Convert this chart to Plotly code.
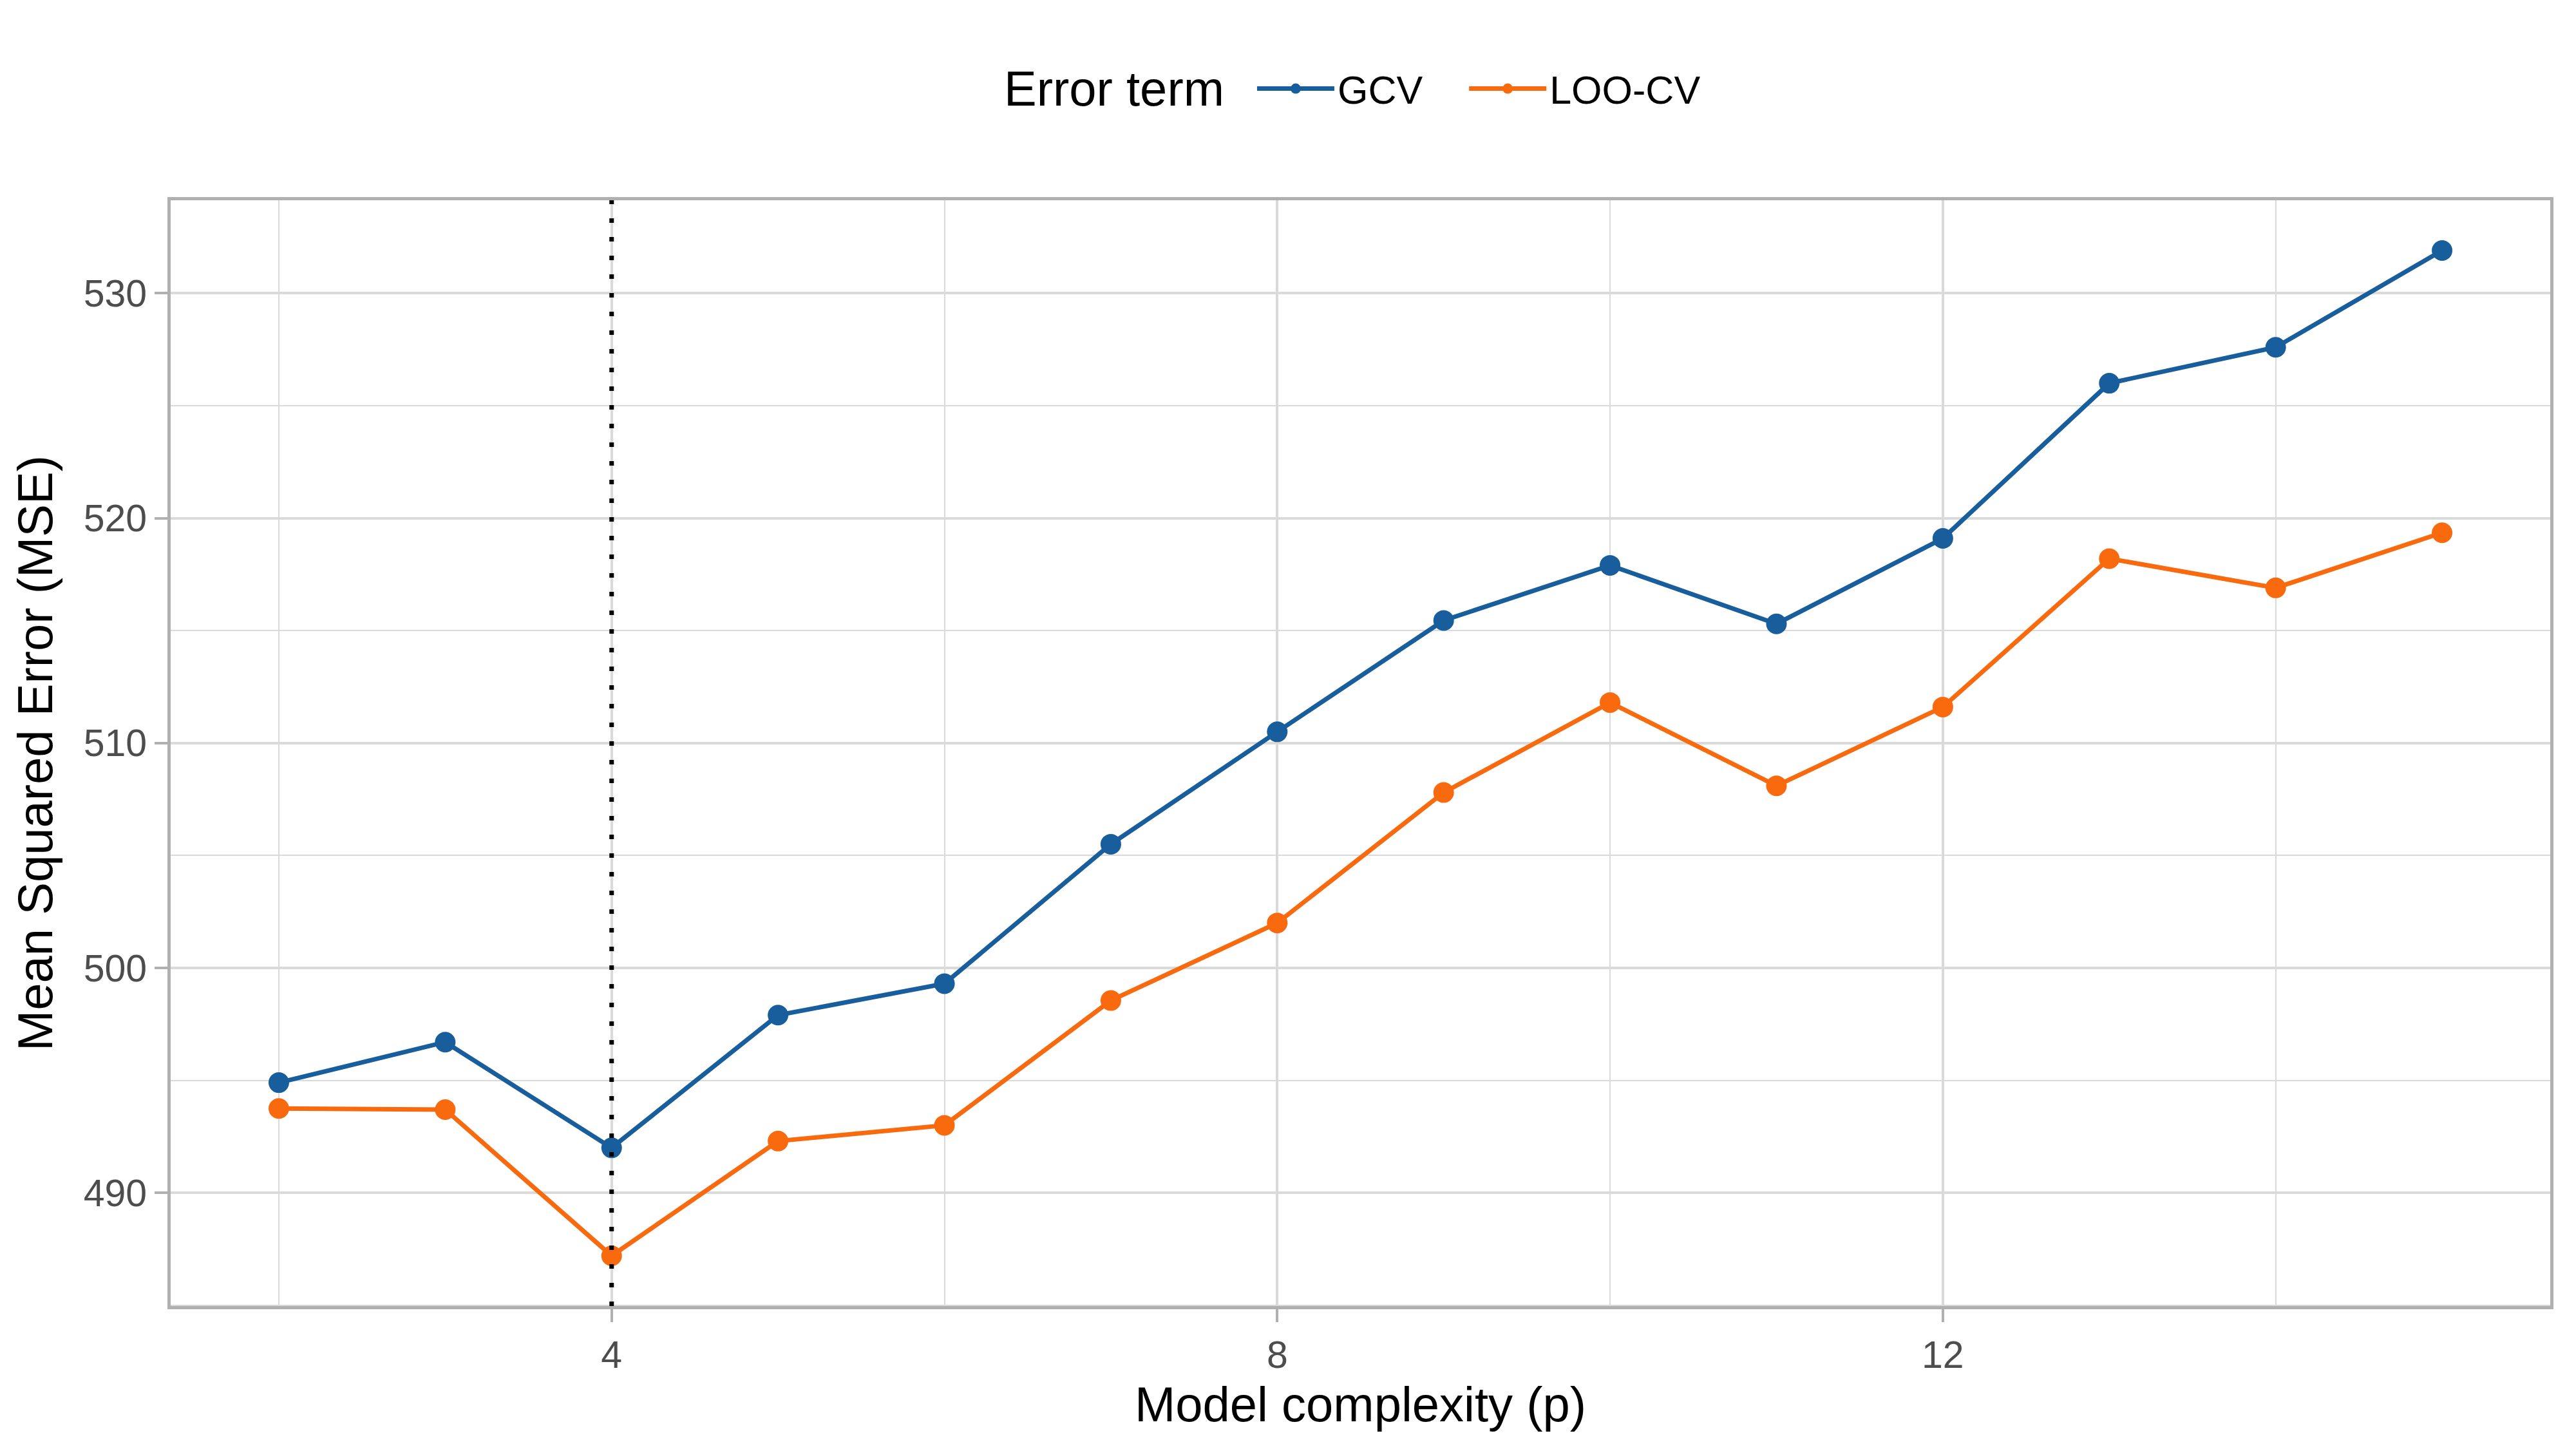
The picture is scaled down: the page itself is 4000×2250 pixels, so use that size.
import plotly.graph_objects as go

# ---- data ----
complexity = list(range(2, 16))
gcv = [494.9, 496.7, 492.0, 497.9, 499.3, 505.5, 510.5, 515.45, 517.9, 515.3, 519.1, 526.0, 527.6, 531.9]
loo_cv = [493.75, 493.7, 487.2, 492.3, 493.0, 498.55, 502.0, 507.8, 511.8, 508.1, 511.6, 518.2, 516.9, 519.35]
series_names = ["GCV", "LOO-CV"]
legend_title = "Error term"
best_p = 4
x_ticks = [4, 8, 12]
y_ticks = [490, 500, 510, 520, 530]

# ---- style ----
colors = {"GCV": "#185D9C", "LOO-CV": "#F96A0E"}
FONT = "Liberation Sans, Arial, sans-serif"
GRID = "#DADADA"
BORDER = "#B0B0B0"
legend_ids = ["legend", "legend2"]
legend_x = [0.4552, 0.5443]

fig = go.Figure()
for name, vals, lid in zip(series_names, [gcv, loo_cv], legend_ids):
    fig.add_trace(go.Scatter(
        x=complexity, y=vals, name=name, mode="lines+markers",
        line=dict(color=colors[name], width=7),
        marker=dict(color=colors[name], size=32),
        legend=lid,
    ))

fig.add_shape(type="line", xref="x", yref="paper", x0=best_p, x1=best_p, y0=0, y1=1,
              line=dict(color="black", width=7, dash="7px,22px"), layer="above")

xmin, xmax = min(complexity), max(complexity)
allv = gcv + loo_cv
ymin, ymax = min(allv), max(allv)
xpad = 0.05 * (xmax - xmin)
ypad = 0.05 * (ymax - ymin)

LEG_Y = 1.1008


def leg(x):
    return dict(
        orientation="h", x=x, xanchor="left", y=LEG_Y, yanchor="middle",
        font=dict(size=61, family=FONT, color="black"),
        itemwidth=120, itemsizing="trace",
        bgcolor="rgba(0,0,0,0)",
    )


fig.update_layout(
    width=3984, height=2234,
    margin=dict(l=257, r=32, t=303, b=214),
    paper_bgcolor="white", plot_bgcolor="white",
    font=dict(family=FONT, color="black"),
    showlegend=True,
    legend=leg(legend_x[0]),
    legend2=leg(legend_x[1]),
    annotations=[dict(
        text=legend_title, xref="paper", yref="paper", x=0.4433, y=LEG_Y,
        xanchor="right", yanchor="middle", showarrow=False,
        font=dict(size=76, family=FONT, color="black"),
    )],
)

fig.update_xaxes(
    range=[xmin - xpad, xmax + xpad],
    tickmode="array", tickvals=x_ticks, ticktext=[str(v) for v in x_ticks],
    showgrid=True, gridcolor=GRID, gridwidth=4,
    minor=dict(tickmode="array", tickvals=[2, 6, 10, 14], showgrid=True, gridcolor=GRID, gridwidth=2, ticks=""),
    showline=True, linecolor=BORDER, linewidth=5, mirror=True,
    ticks="outside", ticklen=20, tickwidth=4, tickcolor=BORDER,
    tickfont=dict(size=59, family=FONT, color="#4D4D4D"),
    zeroline=False,
    title=dict(text="Model complexity (p)", font=dict(size=76, family=FONT, color="black"), standoff=20),
)
fig.update_yaxes(
    range=[ymin - ypad, ymax + ypad],
    tickmode="array", tickvals=y_ticks, ticktext=[str(v) for v in y_ticks],
    showgrid=True, gridcolor=GRID, gridwidth=4,
    minor=dict(tickmode="array", tickvals=[485, 495, 505, 515, 525], showgrid=True, gridcolor=GRID, gridwidth=2, ticks=""),
    showline=True, linecolor=BORDER, linewidth=5, mirror=True,
    ticks="outside", ticklen=20, tickwidth=4, tickcolor=BORDER,
    tickfont=dict(size=59, family=FONT, color="#4D4D4D"),
    zeroline=False,
    title=dict(text="Mean Squared Error (MSE)", font=dict(size=76, family=FONT, color="black"), standoff=25),
)

fig.write_html("out.html")
